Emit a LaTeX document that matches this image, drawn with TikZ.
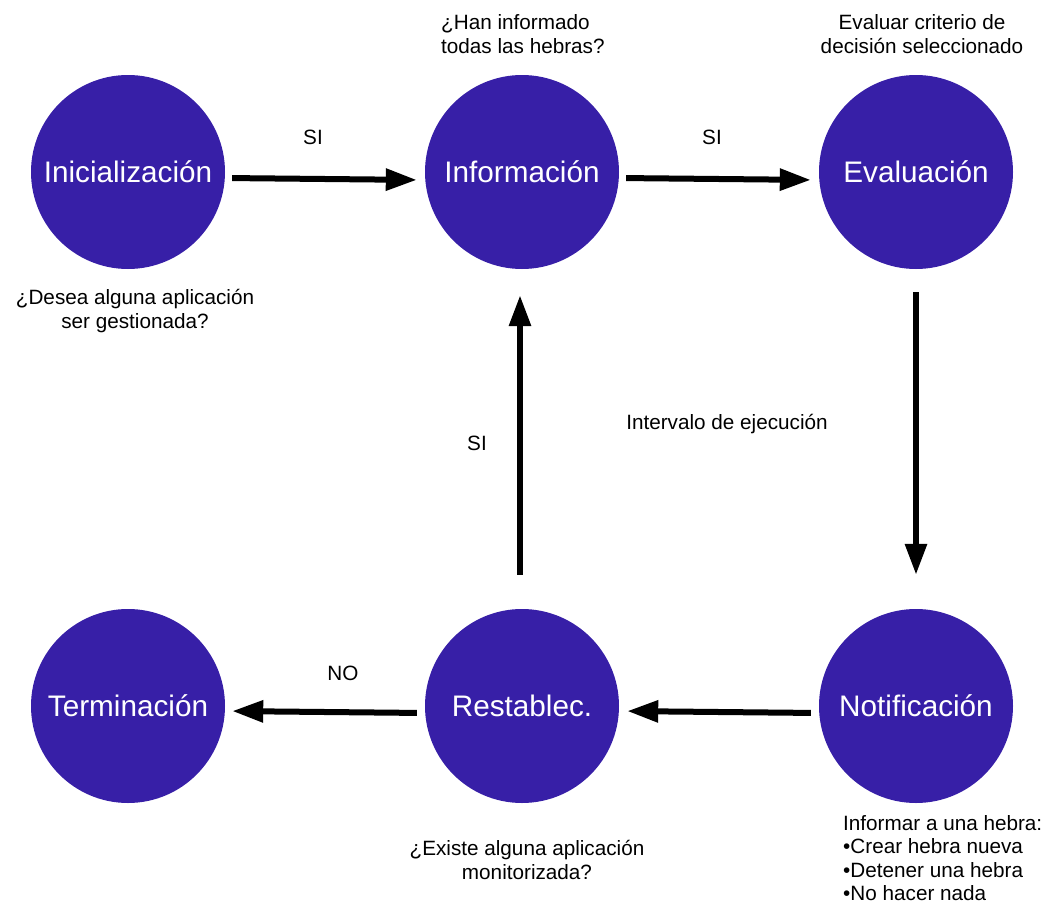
\documentclass[tikz,border=0pt]{standalone}
\usepackage{fontspec}
\setmainfont{Liberation Sans}
\usetikzlibrary{arrows.meta}
\definecolor{stc}{RGB}{55,31,167}
\tikzset{
  st/.style={circle,fill=stc,draw=none,minimum size=194pt,inner sep=0pt,text=white,font=\fontsize{29.7}{34}\selectfont},
  lbl/.style={font=\fontsize{20.7}{23.5}\selectfont,inner sep=0pt},
  arr/.style={line width=6pt,-{Triangle[length=31pt,width=21pt]}}
}
\begin{document}
\begin{tikzpicture}[x=1pt,y=-1pt]
\useasboundingbox (0,0) rectangle (1053,905);
\node[st] (ini) at (128,172) {Inicialización};
\node[st] (inf) at (522,172) {Información};
\node[st] (eva) at (916,172) {Evaluación};
\node[st] (ter) at (128,706) {Terminación};
\node[st] (res) at (522,706) {Restablec.};
\node[st] (not) at (916,706) {Notificación};

\draw[arr,shorten <=7pt,shorten >=8pt] ([yshift=-6pt]ini.east) -- ([yshift=-8pt]inf.west);
\draw[arr,shorten <=7pt,shorten >=8pt] ([yshift=-6pt]inf.east) -- ([yshift=-8pt]eva.west);
\draw[arr,shorten <=23pt,shorten >=34pt] (eva.south) -- (not.north);
\draw[arr,shorten <=34pt,shorten >=26pt] ([xshift=-2pt]res.north) -- ([xshift=-2pt]inf.south);
\draw[arr,shorten <=8pt,shorten >=8pt] ([yshift=-7pt]not.west) -- ([yshift=-5pt]res.east);
\draw[arr,shorten <=8pt,shorten >=7pt] ([yshift=-7pt]res.west) -- ([yshift=-5pt]ter.east);

\node[lbl] (si1) at (313,137) {SI};
\node[lbl] (si2) at (712,137) {SI};
\node[lbl] (si3) at (477,443) {SI};
\node[lbl] (no) at (343,673) {NO};
\node[lbl] (iv) at (727,424) {Intervalo de ejecución};
\node[lbl,align=center] (q1) at (135,311) {¿Desea alguna aplicación\\ser gestionada?};
\node[lbl,align=left,anchor=west] (q2) at (441,34) {¿Han informado\\todas las hebras?};
\node[lbl,align=center] (q3) at (922,34) {Evaluar criterio de\\decisión seleccionado};
\node[lbl,align=center] (q4) at (527,860) {¿Existe alguna aplicación\\monitorizada?};
\node[lbl,align=left,anchor=west] (q5) at (843,858) {Informar a una hebra:\\•Crear hebra nueva\\•Detener una hebra\\•No hacer nada};
\end{tikzpicture}
\end{document}
